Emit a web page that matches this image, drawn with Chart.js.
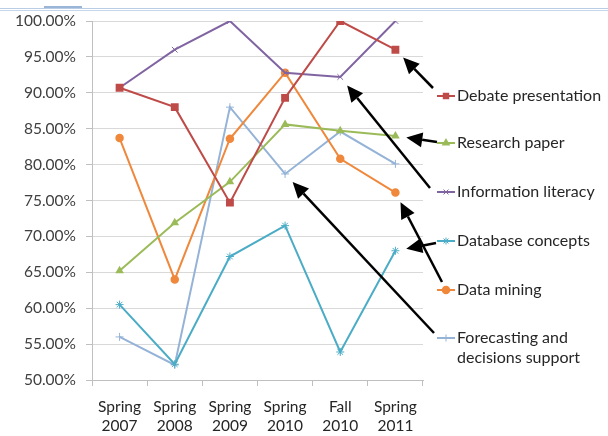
<!DOCTYPE html>
<html>
<head>
<meta charset="utf-8">
<script src="https://cdn.jsdelivr.net/npm/chart.js@4/dist/chart.umd.min.js"></script>
<style>
  html, body { margin: 0; padding: 0; background: #fff; }
  #wrap { position: relative; width: 608px; height: 436px; }
  #topline { position: absolute; left: 0; top: 8px; width: 608px; height: 1px; border-top: 1px solid #b9cde5; border-bottom: 1px solid #c6d6ea; }
  #topmark { position: absolute; left: 44px; top: 6px; width: 38px; height: 2px; background: #9bb5d8; }
</style>
</head>
<body>
<div id="wrap">
  <div id="topline"></div>
  <div id="topmark"></div>
  <canvas id="chart1" width="608" height="436"></canvas>
</div>
<script>
let terms = [["Spring","2007"],["Spring","2008"],["Spring","2009"],["Spring","2010"],["Fall","2010"],["Spring","2011"]];

let debate      = [90.7, 88.0, 74.7, 89.3, 100.0, 96.0];
let research    = [65.2, 71.9, 77.6, 85.6, 84.7, 84.0];
let infoLit     = [90.7, 96.0, 100.0, 92.8, 92.2, 100.0];
let database    = [60.5, 52.2, 67.2, 71.5, 53.9, 68.0];
let dataMining  = [83.7, 64.0, 83.6, 92.8, 80.8, 76.1];
let forecasting = [56.0, 52.1, 88.0, 78.7, 84.6, 80.1];

let names = ["Debate presentation","Research paper","Information literacy","Database concepts","Data mining","Forecasting and\ndecisions support"];
let colors = ["#be4b48","#9bbb59","#8064a2","#4bacc6","#f0883c","#95b3d7"];
let markers = ["rect","triangle","crossRot","star","circle","cross"];
// which point each arrow goes to (index into terms)
let arrowAt = [5, 5, 4, 5, 5, 3];

let font = "Lato, 'Liberation Sans', sans-serif";

// legend rows and arrow starts (layout only)
let legendY = [96, 143, 192, 241, 290, 338];
let arrowFrom = [[433,88],[437,142],[430,188],[436,243],[442,282],[434,333]];

function thin(style){ return style == "crossRot" || style == "star" || style == "cross"; }

let legendArrows = {
  id: "legendArrows",
  afterDraw(chart){
    let ctx = chart.ctx;
    let xs = chart.scales.x, ys = chart.scales.y;
    ctx.save();
    chart.data.datasets.forEach((ds, i) => {
      let y = legendY[i];
      // legend marker
      ctx.strokeStyle = colors[i];
      ctx.lineWidth = 2;
      ctx.beginPath(); ctx.moveTo(437, y); ctx.lineTo(455, y); ctx.stroke();
      ctx.lineWidth = thin(markers[i]) ? 1 : 1.5;
      ctx.fillStyle = colors[i];
      Chart.helpers.drawPoint(ctx, {pointStyle: markers[i], radius: 3.5, borderWidth: ctx.lineWidth}, 446, y);
      ctx.fill();
      // text
      ctx.fillStyle = "#262626";
      ctx.font = "16px " + font;
      ctx.textBaseline = "middle";
      ctx.textAlign = "left";
      names[i].split("\n").forEach((t, k) => ctx.fillText(t, 457, y + k * 20));

      // arrow to the data point
      let px = xs.getPixelForValue(arrowAt[i]);
      let py = ys.getPixelForValue(ds.data[arrowAt[i]]);
      let sx = arrowFrom[i][0], sy = arrowFrom[i][1];
      let dx = sx - px, dy = sy - py, len = Math.hypot(dx, dy);
      let ux = dx / len, uy = dy / len;
      let tx = px + ux * 11, ty = py + uy * 11;
      let bx = tx + ux * 16, by = ty + uy * 16;
      ctx.strokeStyle = "#000";
      ctx.lineWidth = 2.5;
      ctx.beginPath(); ctx.moveTo(sx, sy); ctx.lineTo(bx, by); ctx.stroke();
      ctx.fillStyle = "#000";
      ctx.beginPath();
      ctx.moveTo(tx, ty);
      ctx.lineTo(bx - uy * 7.5, by + ux * 7.5);
      ctx.lineTo(bx + uy * 7.5, by - ux * 7.5);
      ctx.closePath();
      ctx.fill();
    });
    ctx.restore();
  }
};

let series = [debate, research, infoLit, database, dataMining, forecasting];

let chart1 = new Chart(document.getElementById("chart1"), {
  type: "line",
  data: {
    labels: terms,
    datasets: series.map((d, i) => ({
      label: names[i],
      data: d,
      borderColor: colors[i],
      backgroundColor: colors[i],
      borderWidth: 2,
      pointStyle: markers[i],
      pointRadius: markers[i] == "rect" ? 4.5 : (thin(markers[i]) ? 4 : 3.5),
      pointBorderWidth: thin(markers[i]) ? 1 : 1.5,
      tension: 0,
      fill: false
    }))
  },
  options: {
    responsive: false,
    animation: false,
    layout: { padding: { top: 21, right: 185, left: 0, bottom: 0 } },
    plugins: { legend: { display: false }, tooltip: { enabled: false } },
    scales: {
      y: {
        min: 50, max: 100,
        ticks: {
          stepSize: 5,
          padding: 10,
          color: "#404040",
          font: { family: font, size: 15.5 },
          callback: v => v.toFixed(2) + "%"
        },
        grid: { color: "#d9d9d9", tickLength: 6, tickColor: "#bfbfbf" },
        border: { color: "#bfbfbf" },
        afterFit: s => { s.width = 92; }
      },
      x: {
        offset: true,
        ticks: {
          padding: 12,
          color: "#262626",
          font: { family: font, size: 15.5, lineHeight: 1.2 }
        },
        grid: { offset: true, drawOnChartArea: false, tickLength: 6, color: "#bfbfbf" },
        border: { color: "#bfbfbf" },
        afterFit: s => { s.height = 56; }
      }
    }
  },
  plugins: [legendArrows]
});
</script>
</body>
</html>
